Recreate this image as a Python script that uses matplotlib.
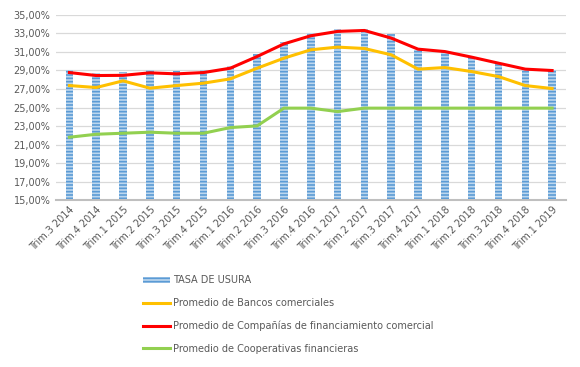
import numpy as np
import matplotlib.pyplot as plt
from matplotlib.ticker import FuncFormatter

trimestres = ['Trim.3 2014', 'Trim.4 2014', 'Trim.1 2015', 'Trim.2 2015', 'Trim.3 2015',
              'Trim.4 2015', 'Trim.1 2016', 'Trim.2 2016', 'Trim.3 2016', 'Trim.4 2016',
              'Trim.1 2017', 'Trim.2 2017', 'Trim.3 2017', 'Trim.4 2017', 'Trim.1 2018',
              'Trim.2 2018', 'Trim.3 2018', 'Trim.4 2018', 'Trim.1 2019']

usura = [29.00, 28.76, 28.82, 29.06, 28.89, 29.00, 29.52, 30.81, 32.01, 32.99,
         33.51, 33.50, 32.97, 31.16, 31.02, 30.42, 29.72, 29.10, 29.06]
bancos = [27.37, 27.16, 27.88, 27.09, 27.37, 27.63, 28.09, 29.24, 30.32, 31.22,
          31.51, 31.36, 30.68, 29.14, 29.31, 28.88, 28.34, 27.37, 27.05]
companias = [28.77, 28.45, 28.47, 28.74, 28.63, 28.77, 29.24, 30.50, 31.86, 32.73,
             33.20, 33.30, 32.48, 31.29, 31.03, 30.43, 29.78, 29.14, 28.99]
cooperativas = [21.81, 22.13, 22.24, 22.35, 22.24, 22.24, 22.85, 23.03, 24.94, 24.94,
                24.57, 24.94, 24.94, 24.94, 24.94, 24.94, 24.94, 24.94, 24.94]

gris = '#595959'
plt.rcParams['hatch.linewidth'] = 1.2

fig = plt.figure(figsize=(5.8, 3.67), dpi=100)
ax = fig.add_axes([0.0966, 0.4537, 0.8784, 0.5063])

x = np.arange(len(trimestres))
b = ax.bar(x, usura, width=0.28, color='#bdd7ee', edgecolor='#5b9bd5', hatch='-----',
           linewidth=0, label='TASA DE USURA', zorder=2)
l1, = ax.plot(x, bancos, color='#ffc000', lw=2.2, label='Promedio de Bancos comerciales', zorder=3)
l2, = ax.plot(x, companias, color='#ff0000', lw=2.2,
              label='Promedio de Compañías de financiamiento comercial', zorder=4)
l3, = ax.plot(x, cooperativas, color='#92d050', lw=2.2,
              label='Promedio de Cooperativas financieras', zorder=3)

ax.set_ylim(15, 35)
ax.set_yticks(np.arange(15, 36, 2))
ax.yaxis.set_major_formatter(FuncFormatter(lambda v, p: f'{v:.2f}%'.replace('.', ',')))
ax.set_xlim(-0.5, len(trimestres) - 0.5)
ax.set_xticks(x)
ax.set_xticklabels(trimestres, rotation=45, ha='right', rotation_mode='anchor')
ax.tick_params(axis='both', length=0, labelsize=7, colors=gris)
ax.tick_params(axis='y', pad=4)
ax.tick_params(axis='x', pad=3)

ax.grid(axis='y', color='#d9d9d9', lw=0.9, zorder=0)
ax.set_axisbelow(True)
for s in ['top', 'right', 'left']:
    ax.spines[s].set_visible(False)
ax.spines['bottom'].set_color('#bfbfbf')
ax.spines['bottom'].set_linewidth(1.5)

fig.legend(handles=[b, l1, l2, l3], loc='upper left', bbox_to_anchor=(0.24, 0.26),
           frameon=False, fontsize=7, labelcolor=gris, handlelength=2.8,
           handletextpad=0.3, labelspacing=1.3, borderaxespad=0)

fig.savefig('out.png', dpi=100)
